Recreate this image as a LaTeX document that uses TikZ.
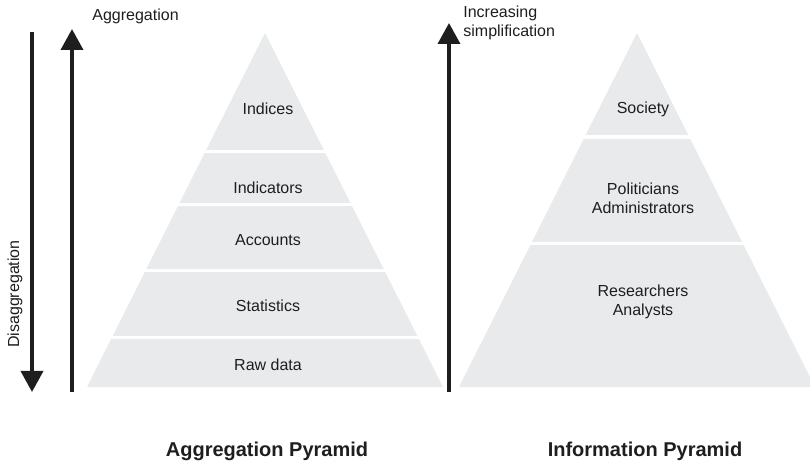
\documentclass[tikz,border=0pt]{standalone}
\usepackage{fontspec}
\setmainfont{Liberation Sans}
\usetikzlibrary{arrows.meta}
\definecolor{pyrfill}{RGB}{233,234,236}
\definecolor{inkdark}{RGB}{30,30,30}

\tikzset{
  lbl/.style={text=inkdark,font=\fontsize{8}{9.6}\selectfont,align=center,inner sep=0pt},
  ttl/.style={text=inkdark,font=\fontsize{10}{12}\selectfont\bfseries,inner sep=0pt,anchor=base},
  bigarrow/.style={inkdark,line width=1.8pt,-{Triangle[width=11pt,length=10.5pt]}},
  gap/.style={white,line width=1.6pt}
}

\begin{document}
\begin{tikzpicture}[x=0.5pt,y=-0.5pt]
  \useasboundingbox (0,0) rectangle (810,465);
  % aggregation pyramid
  \coordinate (A) at (265,33);
  \coordinate (B) at (87,387);
  \coordinate (C) at (443,387);
  \fill[pyrfill] (A) -- (B) -- (C) -- cycle;
  \foreach \y in {151.5,204.5,270.5,337.5}
    \draw[gap] (80,\y) -- (450,\y);
  \node[lbl] (indices)    at (268,109) {Indices};
  \node[lbl] (indicators) at (268,188) {Indicators};
  \node[lbl] (accounts)   at (268,240) {Accounts};
  \node[lbl] (statistics) at (268,306) {Statistics};
  \node[lbl] (rawdata)    at (268,365) {Raw data};
  \node[ttl] (aggpyr)     at (267,457) {Aggregation Pyramid};

  % information pyramid
  \coordinate (D) at (637,33);
  \coordinate (E) at (459,387);
  \coordinate (F) at (815,387);
  \fill[pyrfill] (D) -- (E) -- (F) -- cycle;
  \foreach \y in {137,243.5}
    \draw[gap] (452,\y) -- (815,\y);
  \node[lbl] (society)  at (643,109) {Society};
  \node[lbl] (politics) at (643,198) {Politicians\\Administrators};
  \node[lbl] (research) at (643,302) {Researchers\\Analysts};
  \node[ttl] (infopyr)  at (645,457) {Information Pyramid};

  % arrows
  \coordinate (disTop) at (32,32);
  \coordinate (disEnd) at (32,392);
  \coordinate (aggBot) at (72,392);
  \coordinate (aggEnd) at (72,29);
  \coordinate (simBot) at (449,392);
  \coordinate (simEnd) at (449,23);
  \draw[bigarrow] (disTop) -- (disEnd);
  \draw[bigarrow] (aggBot) -- (aggEnd);
  \draw[bigarrow] (simBot) -- (simEnd);
  \node[lbl,anchor=west] (agglbl) at (92,16) {Aggregation};
  \node[lbl,rotate=90] (dislbl) at (15,294) {Disaggregation};
  \node[lbl,anchor=west,align=left] (simlbl) at (463,23) {Increasing\\simplification};
\end{tikzpicture}
\end{document}
